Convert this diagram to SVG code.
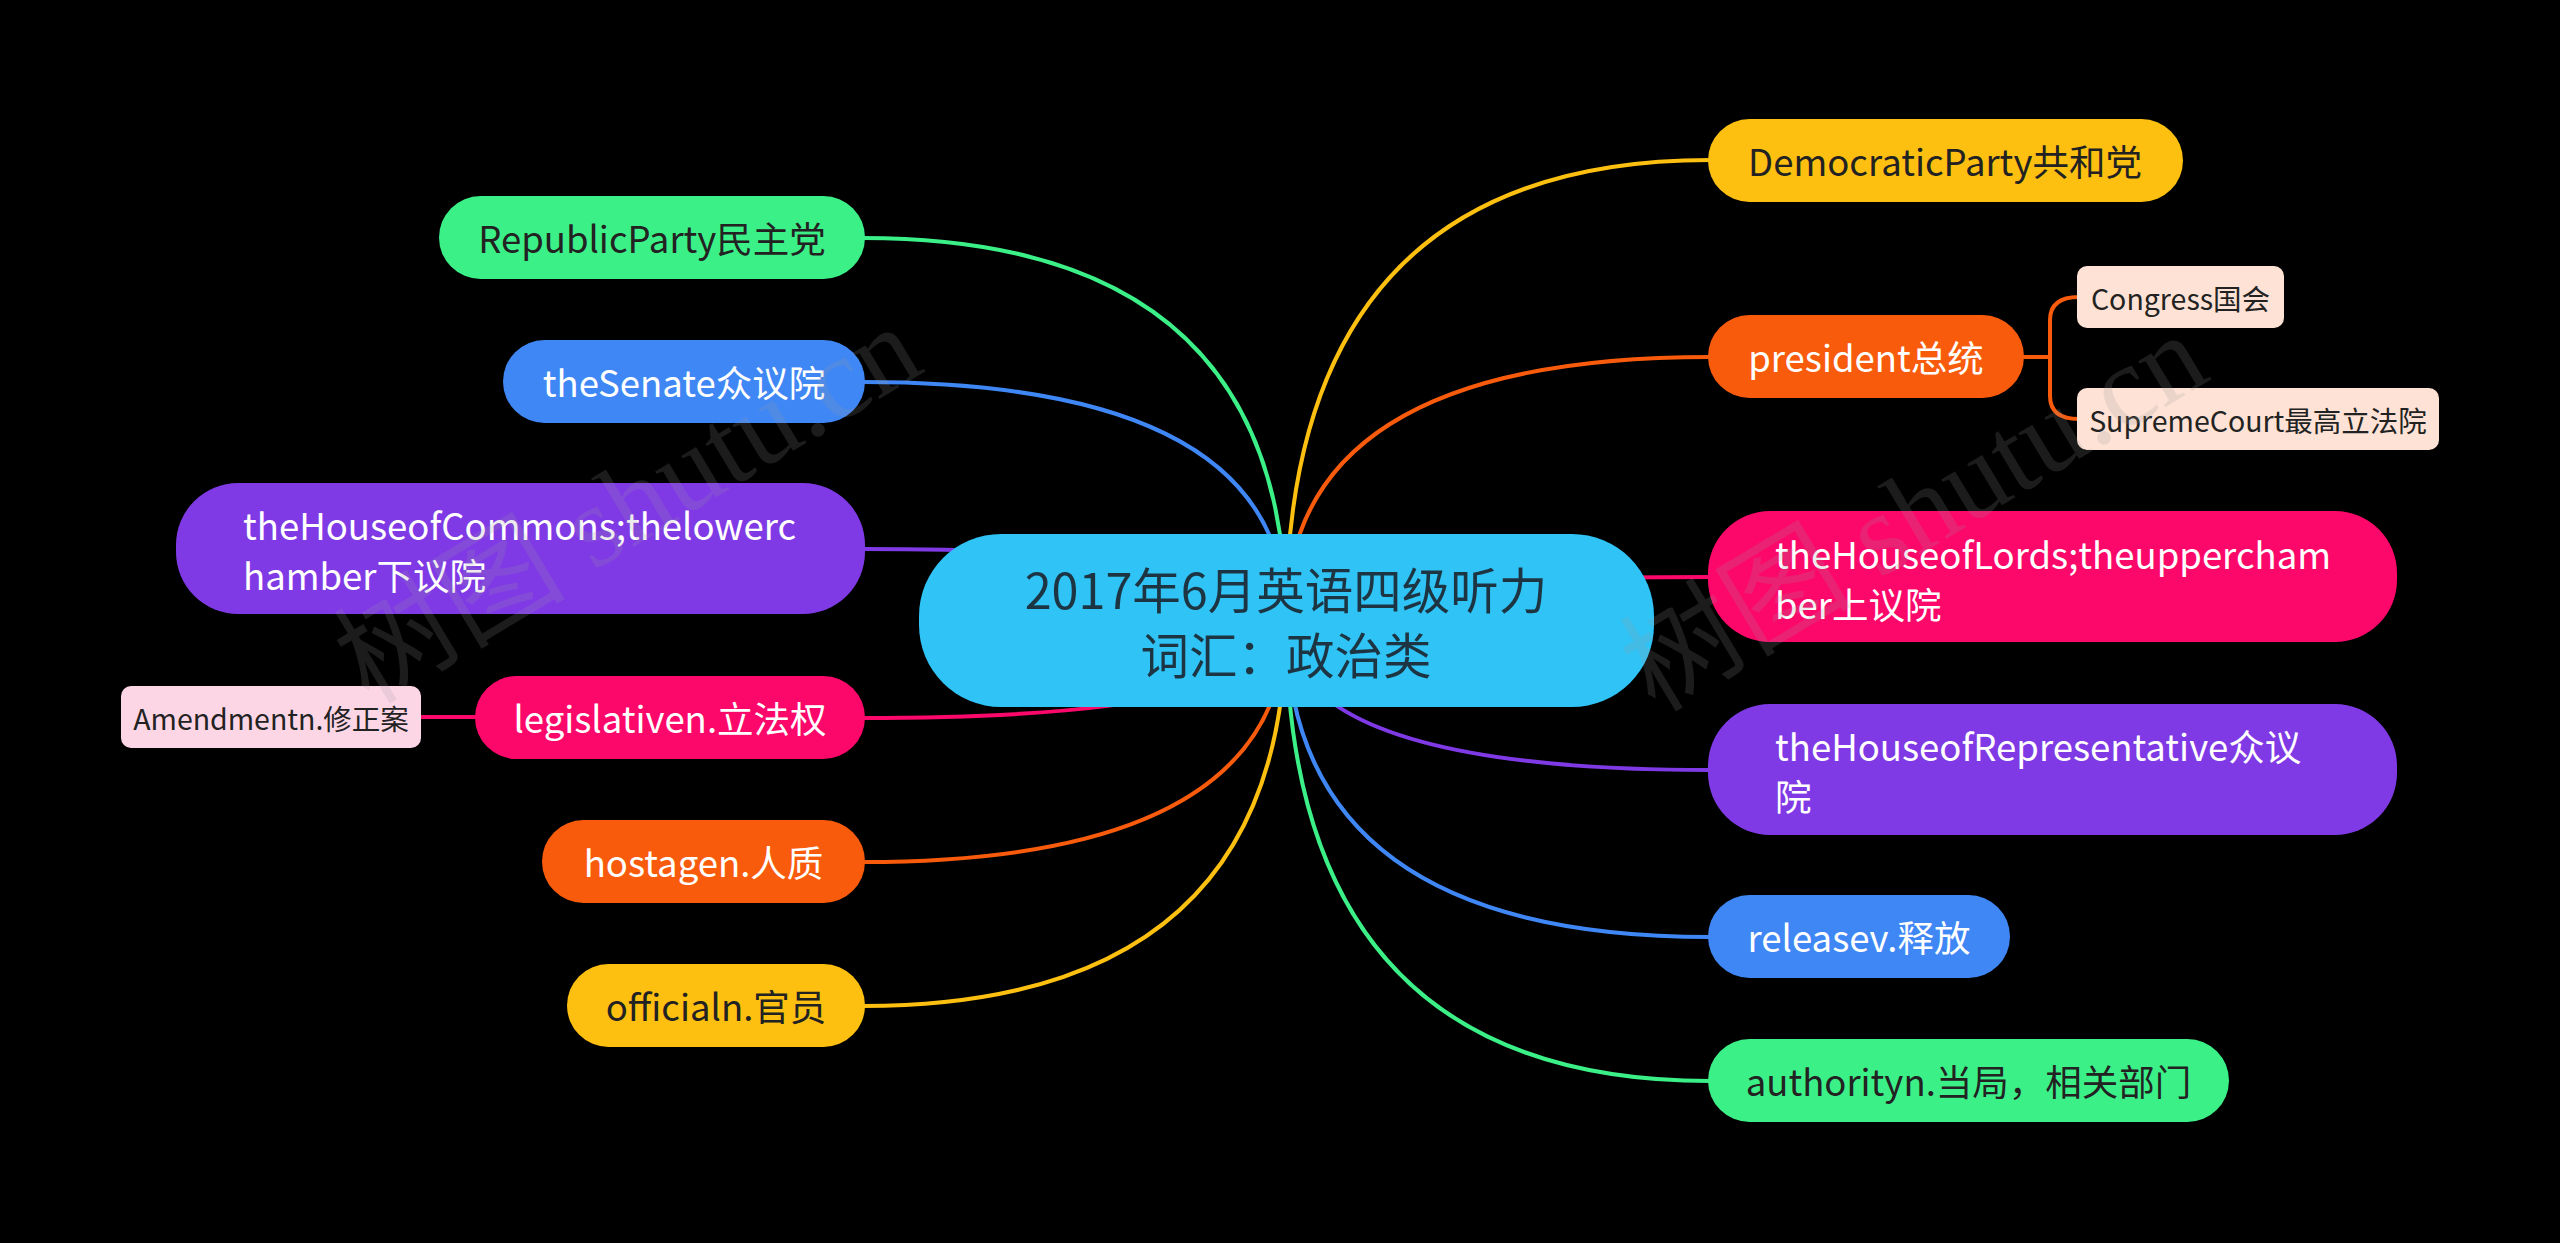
<svg xmlns="http://www.w3.org/2000/svg" width="2560" height="1243" viewBox="0 0 2560 1243">
<style>
.t{font-family:"Noto Sans CJK SC","Microsoft YaHei",sans-serif;font-size:36.5px;dominant-baseline:central}
.m{text-anchor:middle}
.s{font-size:28.5px}
.cen{font-size:48.5px;fill:#1d3442}
.dk{fill:#222222}
.wh{fill:#ffffff}
.ln{fill:none;stroke-width:4;stroke-linecap:round}
.wm{font-family:"Liberation Serif","Noto Sans CJK SC",serif;font-size:116px;fill:#9a9a9a;opacity:0.18;text-anchor:middle}
</style>
<rect width="2560" height="1243" fill="#000000"/>
<g id="connectors">
<path class="ln" stroke="#FDC010" d="M1286 620 Q1286 160 1710 160"/>
<path class="ln" stroke="#F95B0C" d="M1286 620 Q1286 357 1710 357"/>
<path class="ln" stroke="#FC086B" d="M1286 620 Q1286 577 1710 577"/>
<path class="ln" stroke="#7F3AE6" d="M1286 620 Q1286 770 1710 770"/>
<path class="ln" stroke="#3F87F5" d="M1286 620 Q1286 937 1710 937"/>
<path class="ln" stroke="#3CF088" d="M1286 620 Q1286 1081 1710 1081"/>
<path class="ln" stroke="#3CF088" d="M1286 620 Q1286 238 863 238"/>
<path class="ln" stroke="#3F87F5" d="M1286 620 Q1286 382 863 382"/>
<path class="ln" stroke="#7F3AE6" d="M1286 620 Q1286 549 863 549"/>
<path class="ln" stroke="#FC086B" d="M1286 620 Q1286 718 863 718"/>
<path class="ln" stroke="#F95B0C" d="M1286 620 Q1286 862 863 862"/>
<path class="ln" stroke="#FDC010" d="M1286 620 Q1286 1006 863 1006"/>
<path class="ln" stroke="#F95B0C" d="M2022 357 H2050 M2050 357 V320 Q2050 297 2079 297 M2050 357 V396 Q2050 419 2079 419"/>
<path class="ln" stroke="#FC086B" d="M477 717 H419"/>
</g>
<g id="center">
<rect x="919" y="534" width="735" height="173" rx="82" fill="#30C3F5"/>
<text class="t m cen" x="1286" y="588">2017年6月英语四级听力</text>
<text class="t m cen" x="1286" y="653">词汇：政治类</text>
</g>
<g id="democratic">
<rect x="1708" y="119" width="475" height="83" rx="41.5" fill="#FDC010"/>
<text class="t m dk" x="1945" y="160.5">DemocraticParty共和党</text>
</g>
<g id="president">
<rect x="1708" y="315" width="316" height="83" rx="41.5" fill="#F95B0C"/>
<text class="t m wh" x="1866" y="356.5">president总统</text>
</g>
<g id="congress">
<rect x="2077" y="266" width="207" height="62" rx="10" fill="#FDE2D5"/>
<text class="t m s dk" x="2180.5" y="297">Congress国会</text>
</g>
<g id="supremecourt">
<rect x="2077" y="388" width="362" height="62" rx="10" fill="#FDE2D5"/>
<text class="t m s dk" x="2258" y="419">SupremeCourt最高立法院</text>
</g>
<g id="lords">
<rect x="1708" y="511" width="689" height="131" rx="62" fill="#FC086B"/>
<text class="t wh" x="1775" y="553">theHouseofLords;theuppercham</text>
<text class="t wh" x="1775" y="603">ber上议院</text>
</g>
<g id="representative">
<rect x="1708" y="704" width="689" height="131" rx="62" fill="#7F3AE6"/>
<text class="t wh" x="1775" y="745">theHouseofRepresentative众议</text>
<text class="t wh" x="1775" y="795">院</text>
</g>
<g id="release">
<rect x="1708" y="895" width="302" height="83" rx="41.5" fill="#3F87F5"/>
<text class="t m wh" x="1859" y="936.5">releasev.释放</text>
</g>
<g id="authority">
<rect x="1708" y="1039" width="521" height="83" rx="41.5" fill="#3CF088"/>
<text class="t m dk" x="1968.5" y="1080.5">authorityn.当局，相关部门</text>
</g>
<g id="republic">
<rect x="439" y="196" width="426" height="83" rx="41.5" fill="#3CF088"/>
<text class="t m dk" x="652" y="237.5">RepublicParty民主党</text>
</g>
<g id="senate">
<rect x="503" y="340" width="362" height="83" rx="41.5" fill="#3F87F5"/>
<text class="t m wh" x="684" y="381.5">theSenate众议院</text>
</g>
<g id="commons">
<rect x="176" y="483" width="689" height="131" rx="62" fill="#7F3AE6"/>
<text class="t wh" x="243" y="524">theHouseofCommons;thelowerc</text>
<text class="t wh" x="243" y="574">hamber下议院</text>
</g>
<g id="legislative">
<rect x="475" y="676" width="390" height="83" rx="41.5" fill="#FC086B"/>
<text class="t m wh" x="670" y="717.5">legislativen.立法权</text>
</g>
<g id="amendment">
<rect x="121" y="686" width="300" height="62" rx="10" fill="#FDD6E6"/>
<text class="t m s dk" x="271" y="717">Amendmentn.修正案</text>
</g>
<g id="hostage">
<rect x="542" y="820" width="323" height="83" rx="41.5" fill="#F95B0C"/>
<text class="t m wh" x="703.5" y="861.5">hostagen.人质</text>
</g>
<g id="official">
<rect x="567" y="964" width="298" height="83" rx="41.5" fill="#FDC010"/>
<text class="t m dk" x="716" y="1005.5">officialn.官员</text>
</g>
<g id="watermark">
<text class="wm" transform="translate(648 538) rotate(-31)">树图 shutu.cn</text>
<text class="wm" transform="translate(1934 546) rotate(-31)">树图 shutu.cn</text>
</g>
</svg>
